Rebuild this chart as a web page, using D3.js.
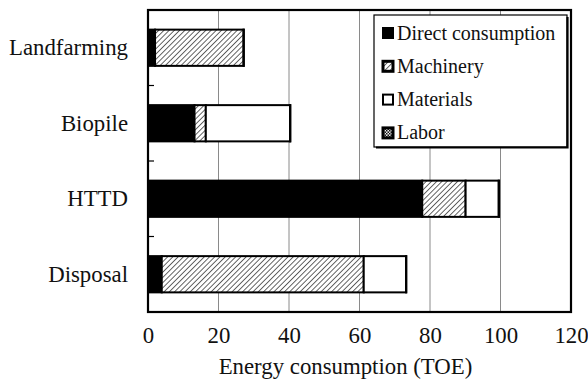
<!DOCTYPE html>
<html>
<head>
<meta charset="utf-8">
<script src="https://cdn.jsdelivr.net/npm/d3@7"></script>
<style>
  html, body { margin: 0; padding: 0; background: #fff; }
  svg { display: block; }
  svg text { font-family: "Liberation Serif", "Times New Roman", Times, Tinos, "DejaVu Serif", serif !important; fill: #111; }
</style>
</head>
<body>
<svg id="chart" width="588" height="380"></svg>
<script>
// Treatment options, top to bottom
const categories = ["Landfarming", "Biopile", "HTTD", "Disposal"];
// Stacked components (TOE)
const series = ["Direct consumption", "Machinery", "Materials", "Labor"];
const directConsumption = [2.0, 13.2, 77.8, 3.9];
const machinery        = [25.1, 3.2, 12.3, 57.3];
const materials        = [0.0, 23.9, 9.4, 12.0];
const labor            = [0.1, 0.1, 0.1, 0.1];
const xTicks = [0, 20, 40, 60, 80, 100, 120];

const AXIS_FONT = "22.8px";
const LEGEND_FONT = "20px";
const svg = d3.select("#chart");
const margin = { left: 148, right: 17, top: 10, bottom: 68 };
const W = 588, H = 380;

const x = d3.scaleLinear().domain([0, 120]).range([margin.left, W - margin.right]);
const y = d3.scaleBand().domain(categories).range([margin.top, H - margin.bottom]).paddingInner(0.52).paddingOuter(0.26);

// Patterns
const defs = svg.append("defs");
const hs = 3.7;
const hatch = defs.append("pattern").attr("id", "hatch").attr("patternUnits", "userSpaceOnUse")
  .attr("width", hs).attr("height", hs).attr("patternTransform", "rotate(45)");
hatch.append("rect").attr("width", hs).attr("height", hs).attr("fill", "#fff");
hatch.append("line").attr("x1", 0).attr("y1", 0).attr("x2", 0).attr("y2", hs)
  .attr("stroke", "#222").attr("stroke-width", 1.4);
const checks = defs.append("pattern").attr("id", "checks").attr("patternUnits", "userSpaceOnUse")
  .attr("width", 3).attr("height", 3);
checks.append("rect").attr("width", 3).attr("height", 3).attr("fill", "#fff");
checks.append("rect").attr("width", 1.5).attr("height", 1.5).attr("fill", "#000");
checks.append("rect").attr("x", 1.5).attr("y", 1.5).attr("width", 1.5).attr("height", 1.5).attr("fill", "#000");

const fills = ["#000", "url(#hatch)", "#fff", "url(#checks)"];

// Vertical grid lines
svg.append("g").selectAll("line").data(xTicks.slice(1, -1)).join("line")
  .attr("x1", d => x(d)).attr("x2", d => x(d))
  .attr("y1", margin.top).attr("y2", H - margin.bottom)
  .attr("stroke", "#8a8a8a").attr("stroke-width", 1);

// Stacked bars
const rows = categories.map((c, i) => ({
  cat: c,
  "Direct consumption": directConsumption[i],
  "Machinery": machinery[i],
  "Materials": materials[i],
  "Labor": labor[i]
}));
const stacked = d3.stack().keys(series)(rows);

svg.append("g").selectAll("g").data(stacked).join("g")
  .attr("fill", (d, i) => fills[i])
  .selectAll("rect").data(d => d.filter(s => s[1] - s[0] > 0)).join("rect")
  .attr("x", d => x(d[0]))
  .attr("width", d => x(d[1]) - x(d[0]))
  .attr("y", d => y(d.data.cat))
  .attr("height", y.bandwidth())
  .attr("stroke", "#000").attr("stroke-width", 2);

// Plot frame
svg.append("rect")
  .attr("x", margin.left).attr("y", margin.top)
  .attr("width", x(120) - x(0)).attr("height", H - margin.bottom - margin.top)
  .attr("fill", "none").attr("stroke", "#000").attr("stroke-width", 2.2);

// Category separators on the left axis
const sepY = categories.slice(0, -1).map((c, i) => (y(c) + y.bandwidth() + y(categories[i + 1])) / 2);
svg.append("g").selectAll("line").data(sepY).join("line")
  .attr("x1", margin.left).attr("x2", margin.left + 6)
  .attr("y1", d => d).attr("y2", d => d)
  .attr("stroke", "#000").attr("stroke-width", 1.2);

// X axis tick labels
const xAxis = d3.axisBottom(x).tickValues(xTicks).tickSize(0).tickPadding(15);
const gx = svg.append("g").attr("transform", `translate(0,${H - margin.bottom})`).call(xAxis)
  .attr("font-family", null).attr("font-size", null);
gx.select(".domain").remove();
gx.selectAll("text").style("font-size", AXIS_FONT);

// Category labels
const yAxis = d3.axisLeft(y).tickSize(0).tickPadding(20);
const gy = svg.append("g").attr("transform", `translate(${margin.left},0)`).call(yAxis)
  .attr("font-family", null).attr("font-size", null);
gy.select(".domain").remove();
gy.selectAll("text").style("font-size", AXIS_FONT);

// Axis title
svg.append("text").attr("x", 345.5).attr("y", 374).attr("text-anchor", "middle")
  .style("font-size", AXIS_FONT).text("Energy consumption (TOE)");

// Legend
const lg = svg.append("g");
lg.append("rect").attr("x", 374).attr("y", 15).attr("width", 193).attr("height", 132)
  .attr("fill", "#fff").attr("stroke", "#000").attr("stroke-width", 1.2);
lg.append("path").attr("d", "M376,147.5 L567.5,147.5 L567.5,17")
  .attr("fill", "none").attr("stroke", "#000").attr("stroke-width", 2.2);
const items = lg.selectAll("g.item").data(series).join("g").attr("class", "item")
  .attr("transform", (d, i) => `translate(383,${33 + i * 33.3})`);
items.append("rect").attr("x", 0).attr("y", -5).attr("width", 10).attr("height", 10)
  .attr("fill", (d, i) => fills[i]).attr("stroke", "#000")
  .attr("stroke-width", (d, i) => (i === 0 || i === 2) ? 2 : 3);
items.append("text").attr("x", 14).attr("y", 6.5).style("font-size", LEGEND_FONT).text(d => d);
</script>
</body>
</html>
